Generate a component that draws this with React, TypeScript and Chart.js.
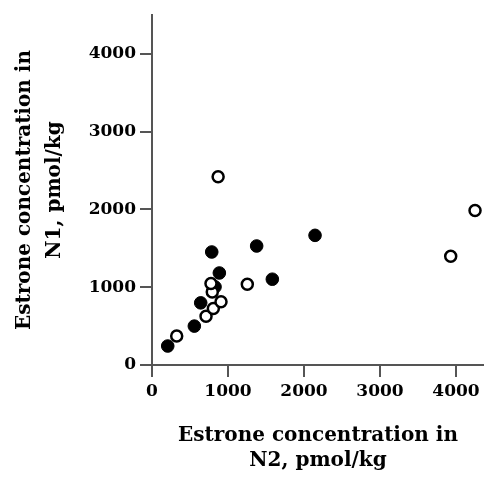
import React, { useEffect, useRef } from "react";
import { Chart, registerables } from "chart.js";

Chart.register(...registerables);

const filledX = [207, 557, 641, 786, 829, 886, 1377, 1583, 2145];
const filledY = [244, 500, 799, 1453, 1004, 1183, 1530, 1103, 1667];

const openX = [325, 711, 807, 908, 793, 776, 1254, 870, 3930, 4250];
const openY = [372, 628, 727, 812, 940, 1047, 1038, 2420, 1397, 1987];

const xTicks = [0, 1000, 2000, 3000, 4000];
const yTicks = [0, 1000, 2000, 3000, 4000];

const xTitle = ["Estrone concentration in", "N2, pmol/kg"];
const yTitle = ["Estrone concentration in", "N1, pmol/kg"];

const FONT = "DejaVu Serif";

export default function App() {
  const ref = useRef<HTMLCanvasElement | null>(null);

  useEffect(() => {
    if (!ref.current) return;
    const tickFont = { family: FONT, weight: "bold" as const, size: 17 };
    const chart = new Chart(ref.current, {
      type: "scatter",
      data: {
        datasets: [
          {
            label: "open",
            data: openX.map((x, i) => ({ x, y: openY[i] })),
            backgroundColor: "#ffffff",
            borderColor: "#000000",
            borderWidth: 2.5,
            pointRadius: 5.5,
          },
          {
            label: "filled",
            data: filledX.map((x, i) => ({ x, y: filledY[i] })),
            backgroundColor: "#000000",
            borderColor: "#000000",
            borderWidth: 1,
            pointRadius: 6.3,
          },
        ],
      },
      options: {
        responsive: false,
        animation: false,
        layout: { autoPadding: false, padding: { top: 15, right: 0, left: 0, bottom: 0 } },
        plugins: {
          legend: { display: false },
          tooltip: { enabled: false },
        },
        scales: {
          x: {
            type: "linear",
            min: 0,
            max: 4368,
            afterBuildTicks: (s: any) => {
              s.ticks = xTicks.map((v) => ({ value: v }));
            },
            afterFit: (s: any) => {
              s.height = 116;
            },
            ticks: {
              stepSize: 1000,
              font: tickFont,
              color: "#000",
              padding: 4,
              maxRotation: 0,
              autoSkip: false,
              callback: (v: any) => String(v),
            },
            grid: {
              drawOnChartArea: false,
              drawTicks: true,
              tickLength: 12,
              color: "#555",
              lineWidth: 2,
            },
            border: { display: true, color: "#555", width: 2 },
            title: {
              display: true,
              text: xTitle,
              color: "#000",
              font: { family: FONT, weight: "bold", size: 20, lineHeight: "25px" },
              padding: { top: 0, bottom: 8 },
            },
          },
          y: {
            type: "linear",
            min: 0,
            max: 4500,
            afterBuildTicks: (s: any) => {
              s.ticks = yTicks.map((v) => ({ value: v }));
            },
            afterFit: (s: any) => {
              s.width = 152;
            },
            ticks: {
              stepSize: 1000,
              font: tickFont,
              color: "#000",
              padding: 4,
              autoSkip: false,
              callback: (v: any) => String(v),
            },
            grid: {
              drawOnChartArea: false,
              drawTicks: true,
              tickLength: 12,
              color: "#555",
              lineWidth: 2,
            },
            border: { display: true, color: "#555", width: 2 },
            title: {
              display: true,
              text: yTitle,
              color: "#000",
              font: { family: FONT, weight: "bold", size: 20, lineHeight: "30px" },
              padding: { top: 10, bottom: 0 },
            },
          },
        },
      },
    });
    return () => chart.destroy();
  }, []);

  return (
    <div style={{ position: "absolute", left: 0, top: 0, width: 484, height: 481, background: "#fff" }}>
      <canvas ref={ref} width={484} height={481} />
    </div>
  );
}
